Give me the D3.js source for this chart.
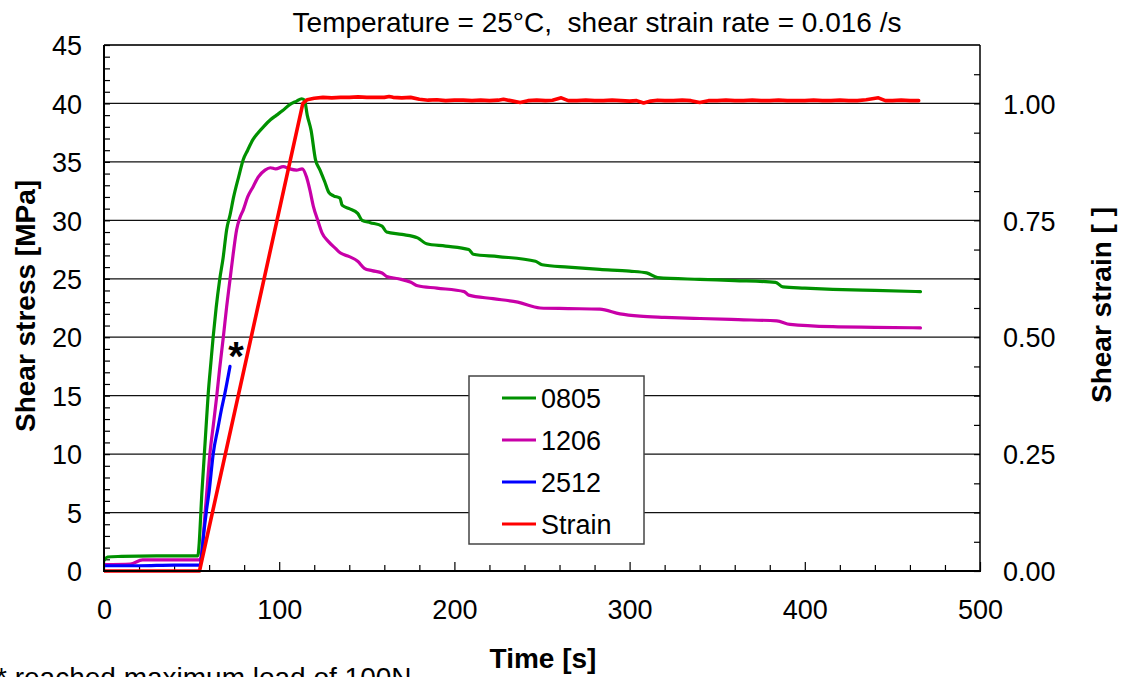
<!DOCTYPE html>
<html>
<head>
<meta charset="utf-8">
<script src="https://cdn.jsdelivr.net/npm/d3@7/dist/d3.min.js"></script>
<style>
  html, body { margin: 0; padding: 0; background: #fff; }
  svg { display: block; }
  text { font-family: "Liberation Sans", Arial, sans-serif; fill: #000; }
</style>
</head>
<body>
<svg id="chart" width="1128" height="677"></svg>
<script>
// Shear stress of three resistor sizes and the applied shear strain over time
const title = "Temperature = 25\u00B0C,  shear strain rate = 0.016 /s";
const seriesNames = ["0805", "1206", "2512", "Strain"];
const seriesColors = ["#009100", "#c800a8", "#0000ff", "#ff0000"];

// 0805 - shear stress [MPa]
const t0805 = [0, 2, 10, 30, 53.5, 56, 58, 59.5, 61, 62.3, 64, 66, 68, 70, 72, 74, 77, 79.5, 82, 85, 88, 91, 95, 98.5, 102, 106, 110, 112.8, 114.4, 116, 118.2, 120.7, 123.3, 126, 128.3, 131, 134.7, 135.9, 140, 144.8, 147.3, 152, 158.7, 161.3, 170, 179, 184.1, 195, 208.2, 210.8, 225, 246.3, 250.1, 265, 283, 300, 309.7, 316, 340, 360, 383.3, 387.5, 400, 416, 440, 466];
const s0805 = [0.9, 1.2, 1.25, 1.3, 1.3, 7.0, 11.7, 15.2, 17.8, 20.0, 22.5, 24.9, 26.8, 29.2, 30.5, 32.0, 33.8, 35.2, 36.0, 36.9, 37.5, 38.0, 38.6, 39.0, 39.4, 39.9, 40.2, 40.4, 40.3, 39.0, 37.7, 35.2, 34.3, 33.3, 32.4, 32.1, 31.9, 31.3, 31.0, 30.6, 30.0, 29.8, 29.5, 29.0, 28.8, 28.5, 28.0, 27.8, 27.5, 27.1, 26.9, 26.5, 26.2, 26.0, 25.8, 25.65, 25.5, 25.1, 24.95, 24.85, 24.7, 24.3, 24.2, 24.1, 24.0, 23.9];

// 1206 - shear stress [MPa]
const t1206 = [0, 15, 22, 40, 54.5, 55.4, 58, 60.5, 62.5, 64.3, 66, 68.1, 70, 71.9, 73.8, 75.7, 77.5, 79.5, 82, 85.2, 88, 91.9, 95, 98, 102.3, 106, 109.9, 113.1, 115.6, 117.5, 119.5, 122, 124.5, 128, 132.1, 135, 140, 144.8, 148.6, 153, 158.7, 161.3, 168, 175.2, 179, 190, 205.6, 208.2, 222, 236.2, 248.9, 265, 283, 294.5, 305.9, 320, 340.2, 362, 384, 391.6, 416, 440, 466];
const s1206 = [0.55, 0.6, 0.95, 0.95, 0.95, 1.2, 5.5, 10.1, 12.6, 14.9, 17.3, 20.0, 22.6, 24.9, 27.2, 29.2, 30.2, 30.9, 32.0, 32.9, 33.7, 34.3, 34.5, 34.4, 34.6, 34.4, 34.3, 34.4, 33.7, 32.6, 31.2, 30.0, 28.9, 28.2, 27.6, 27.2, 26.9, 26.5, 25.9, 25.7, 25.5, 25.2, 25.0, 24.7, 24.4, 24.2, 23.9, 23.6, 23.3, 23.0, 22.5, 22.45, 22.4, 22.0, 21.8, 21.7, 21.6, 21.5, 21.4, 21.1, 20.9, 20.85, 20.8];

// 2512 - shear stress [MPa], stops at the 100 N load limit
const t2512 = [0, 20, 40, 54.8, 57, 58.5, 60, 62.4, 65, 67, 69, 71.9];
const s2512 = [0.45, 0.45, 0.5, 0.5, 3.3, 5.2, 6.8, 10.1, 12.2, 13.8, 15.2, 17.5];

// applied shear strain [-]
const tStrain = [0, 54.5, 113.5, 116, 120, 125, 130, 135, 140, 145, 150, 155, 160, 162.7, 165, 170, 175, 180, 185, 190, 195, 200, 205, 210, 215, 220, 225, 228, 232, 237.5, 242, 247, 252, 256, 261, 265, 270, 275, 280, 285, 290, 295, 300, 304, 308, 312, 316, 320, 325, 330, 335, 340, 345, 350, 355, 360, 365, 370, 375, 380, 385, 390, 395, 400, 405, 410, 415, 420, 425, 430, 435, 442, 446, 450, 455, 460, 465];
const vStrain = [0, 0, 1.0, 1.008, 1.011, 1.013, 1.012, 1.013, 1.013, 1.014, 1.013, 1.013, 1.013, 1.015, 1.013, 1.012, 1.013, 1.009, 1.007, 1.008, 1.006, 1.007, 1.007, 1.006, 1.007, 1.006, 1.007, 1.009, 1.006, 1.002, 1.006, 1.007, 1.006, 1.007, 1.012, 1.006, 1.006, 1.007, 1.006, 1.006, 1.007, 1.006, 1.005, 1.006, 1.001, 1.005, 1.007, 1.006, 1.006, 1.007, 1.006, 1.002, 1.006, 1.006, 1.007, 1.006, 1.006, 1.007, 1.006, 1.006, 1.007, 1.006, 1.006, 1.006, 1.007, 1.006, 1.006, 1.007, 1.006, 1.006, 1.008, 1.012, 1.006, 1.006, 1.007, 1.006, 1.006];

const xTicks = [0, 100, 200, 300, 400, 500];
const yTicks = [0, 5, 10, 15, 20, 25, 30, 35, 40, 45];
const y2Ticks = [0, 0.25, 0.5, 0.75, 1.0];

const svg = d3.select("#chart");
const plotLeft = 104, plotRight = 980, plotTop = 45, plotBottom = 571;

const x = d3.scaleLinear().domain([0, 500]).range([plotLeft, plotRight]);
const y = d3.scaleLinear().domain([0, 45]).range([plotBottom, plotTop]);
const y2 = d3.scaleLinear().domain([0, 1.125]).range([plotBottom, plotTop]);

// horizontal grid
svg.append("g")
  .selectAll("line")
  .data(yTicks.filter(v => v > 0 && v < 45))
  .join("line")
  .attr("x1", plotLeft).attr("x2", plotRight)
  .attr("y1", d => y(d)).attr("y2", d => y(d))
  .attr("stroke", "#111").attr("stroke-width", 1.2);

// frame: top and right edges
svg.append("line").attr("x1", plotLeft).attr("x2", plotRight).attr("y1", plotTop).attr("y2", plotTop)
  .attr("stroke", "#333").attr("stroke-width", 2);
svg.append("line").attr("x1", plotRight).attr("x2", plotRight).attr("y1", plotTop).attr("y2", plotBottom)
  .attr("stroke", "#000").attr("stroke-width", 1.5);

const fontTick = "27px";
const fontTitle = "28px";

// left axis: minor ticks every 1 MPa pointing inward
svg.append("g").attr("transform", `translate(${plotLeft},0)`)
  .call(d3.axisLeft(y).tickValues(d3.range(0, 46, 1)).tickSize(-6).tickFormat(""))
  .call(g => g.select(".domain").remove());
svg.append("g").attr("transform", `translate(${plotLeft},0)`)
  .call(d3.axisLeft(y).tickValues(yTicks).tickSize(0).tickPadding(22).tickFormat(d3.format("d")))
  .call(g => g.select(".domain").remove())
  .selectAll("text").style("font-size", fontTick).attr("dy", "0.36em");

// right axis: ticks every 0.0625 pointing inward
svg.append("g").attr("transform", `translate(${plotRight},0)`)
  .call(d3.axisRight(y2).tickValues(d3.range(0, 18).map(i => i * 0.0625)).tickSize(-6).tickFormat(""))
  .call(g => g.select(".domain").remove());
svg.append("g").attr("transform", `translate(${plotRight},0)`)
  .call(d3.axisRight(y2).tickValues(y2Ticks).tickSize(0).tickPadding(23).tickFormat(d3.format(".2f")))
  .call(g => g.select(".domain").remove())
  .selectAll("text").style("font-size", fontTick).attr("dy", "0.36em");

// bottom axis: minor ticks every 20 s, longer at every 100 s
svg.append("g").attr("transform", `translate(0,${plotBottom})`)
  .call(d3.axisBottom(x).tickValues(d3.range(20, 500, 20).filter(v => v % 100 !== 0)).tickSize(-6).tickFormat(""))
  .call(g => g.select(".domain").remove());
svg.append("g").attr("transform", `translate(0,${plotBottom})`)
  .call(d3.axisBottom(x).tickValues(xTicks).tickSize(-9).tickPadding(29).tickFormat(d3.format("d")))
  .call(g => g.select(".domain").remove())
  .selectAll("text").style("font-size", fontTick);

svg.selectAll(".tick line").attr("stroke", "#000").attr("stroke-width", 1.2);

// data curves
svg.append("clipPath").attr("id", "plotClip").append("rect")
  .attr("x", plotLeft).attr("y", plotTop).attr("width", plotRight - plotLeft).attr("height", plotBottom - plotTop + 3);
const curves = svg.append("g").attr("clip-path", "url(#plotClip)");
const series = [
  [t0805, s0805, y, d3.curveMonotoneX, 3.2],
  [t1206, s1206, y, d3.curveMonotoneX, 3.2],
  [t2512, s2512, y, d3.curveMonotoneX, 3.2],
  [tStrain, vStrain, y2, d3.curveLinear, 3.6]
];
series.forEach(([ts, vs, sy, curve, w], k) => {
  const gen = d3.line().curve(curve).x((d, i) => x(ts[i])).y(d => sy(d));
  curves.append("path")
    .datum(vs)
    .attr("d", gen)
    .attr("fill", "none")
    .attr("stroke", seriesColors[k])
    .attr("stroke-width", w)
    .attr("stroke-linejoin", "round")
    .attr("stroke-linecap", "round");
});

// axis lines on top of curves
svg.append("line").attr("x1", plotLeft).attr("x2", plotLeft).attr("y1", plotTop).attr("y2", plotBottom + 1)
  .attr("stroke", "#000").attr("stroke-width", 2);
svg.append("line").attr("x1", plotLeft - 1).attr("x2", plotRight + 1).attr("y1", plotBottom).attr("y2", plotBottom)
  .attr("stroke", "#000").attr("stroke-width", 2);

// marker for the specimen that reached the load limit
svg.append("text").attr("x", x(75.3)).attr("y", y(17.2))
  .style("font-size", "40px").style("font-weight", "bold").attr("text-anchor", "middle")
  .text("*");

// legend
const lg = svg.append("g");
lg.append("rect").attr("x", 469).attr("y", 376).attr("width", 175).attr("height", 168)
  .attr("fill", "#fff").attr("stroke", "#444").attr("stroke-width", 1.5);
seriesNames.forEach((name, i) => {
  const yy = 398 + i * 42;
  lg.append("line").attr("x1", 502).attr("x2", 536).attr("y1", yy).attr("y2", yy)
    .attr("stroke", seriesColors[i]).attr("stroke-width", 3);
  lg.append("text").attr("x", 541).attr("y", yy).attr("dy", "0.36em")
    .style("font-size", fontTick).text(name);
});

// titles
svg.append("text").attr("x", 597).attr("y", 32).attr("text-anchor", "middle")
  .style("font-size", fontTitle).style("white-space", "pre").text(title);
svg.append("text").attr("transform", "translate(35,306) rotate(-90)").attr("text-anchor", "middle")
  .style("font-size", fontTitle).style("font-weight", "bold").text("Shear stress [MPa]");
svg.append("text").attr("transform", "translate(1111,305) rotate(-90)").attr("text-anchor", "middle")
  .style("font-size", fontTitle).style("font-weight", "bold").text("Shear strain [ ]");
svg.append("text").attr("x", 543).attr("y", 668).attr("text-anchor", "middle")
  .style("font-size", fontTitle).style("font-weight", "bold").text("Time [s]");
svg.append("text").attr("x", -4).attr("y", 687)
  .style("font-size", "28px").text("* reached maximum load of 100N");
</script>
</body>
</html>
